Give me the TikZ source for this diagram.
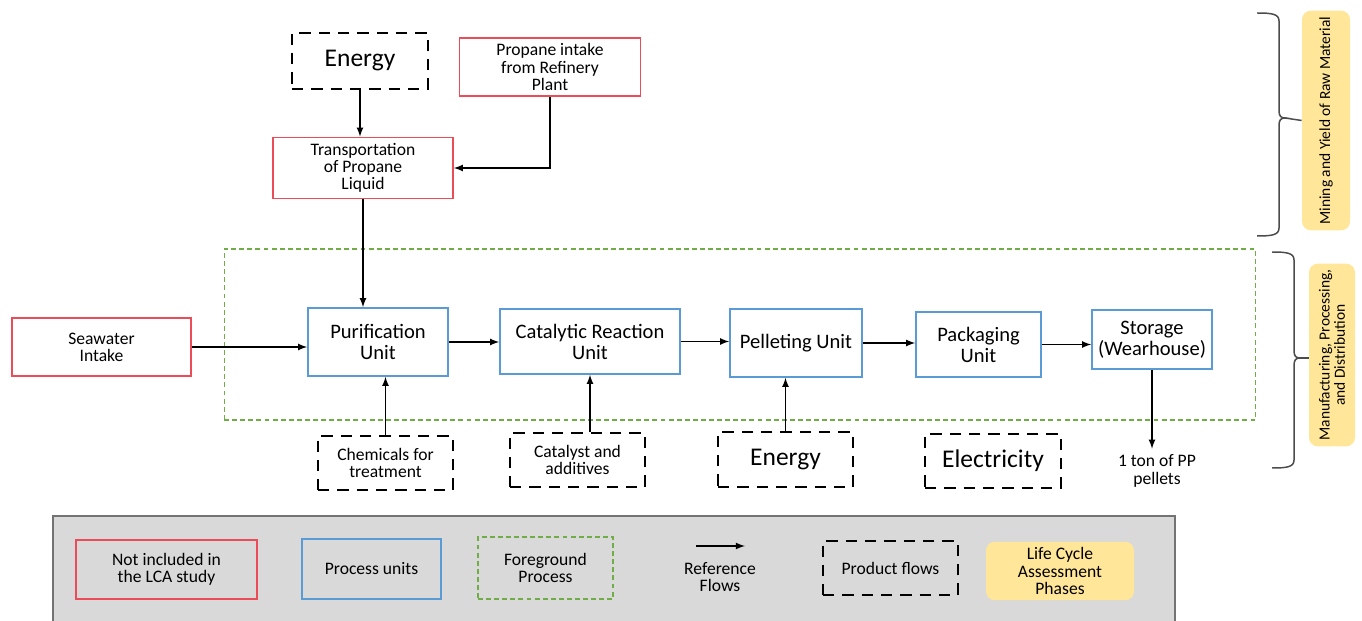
\documentclass[tikz,border=0pt]{standalone}
\usepackage{fontspec}
\setmainfont{Carlito}
\usepackage{tikz}
\usetikzlibrary{positioning}

\definecolor{lcared}{RGB}{236,76,88}
\definecolor{unitblue}{RGB}{91,155,213}
\definecolor{fggreen}{RGB}{112,173,71}
\definecolor{phaseyellow}{RGB}{255,230,153}
\definecolor{legendgray}{RGB}{217,217,217}

\newcommand{\bigtxt}{\fontsize{14.5}{16}\selectfont}
\newcommand{\unittxt}{\fontsize{11.7}{12}\selectfont}
\newcommand{\smalltxt}{\fontsize{10}{9.8}\selectfont}
\newcommand{\legtxt}{\fontsize{10}{9.8}\selectfont}
\newcommand{\phasetxt}{\fontsize{8.8}{8.6}\selectfont}

\begin{document}
\begin{tikzpicture}[>=latex, x=0.02cm, y=-0.02cm,
  excluded/.style={draw=lcared, line width=0.9pt, align=center, font=\smalltxt},
  unit/.style={draw=unitblue, line width=0.9pt, align=center, font=\unittxt},
  product/.style={draw, line width=1.6pt, dash pattern=on 6.5pt off 4.5pt, align=center},
  foreground/.style={draw=fggreen, line width=0.6pt, dash pattern=on 2.8pt off 1.8pt},
  phase/.style={fill=phaseyellow, rounded corners=5pt, align=center, font=\phasetxt},
  flow/.style={->, line width=0.8pt},
  phasebrace/.style={draw=black!70, line width=0.85pt}
  ]
  \useasboundingbox (0,0) rectangle (1362,621);

  %--- Raw material stage
  \node[product, font=\bigtxt, minimum width=2.72cm, minimum height=1.12cm] (energyTop) at (360,61) {Energy};
  \node[excluded, minimum width=3.62cm, minimum height=1.16cm] (propane) at (550,67) {Propane intake\\from Refinery\\Plant};
  \node[excluded, minimum width=3.6cm, minimum height=1.16cm] (transport) at (363,168) {Transportation\\of Propane\\Liquid};

  \draw[flow] (energyTop.south) -- (energyTop.south |- transport.north);
  \draw[flow] (propane.south) |- (transport.east);

  %--- Foreground process
  \node[foreground, minimum width=20.64cm, minimum height=3.42cm] (fg) at (740,334.5) {};

  \node[excluded, minimum width=3.58cm, minimum height=1.16cm] (seawater) at (101.5,347) {Seawater\\Intake};
  \node[unit, minimum width=2.8cm, minimum height=1.36cm] (purif) at (378,342) {Purification\\Unit};
  \node[unit, minimum width=3.6cm, minimum height=1.3cm] (catalytic) at (590,341.5) {Catalytic Reaction\\Unit};
  \node[unit, minimum width=2.64cm, minimum height=1.36cm] (pellet) at (796,343) {Pelleting Unit};
  \node[unit, minimum width=2.5cm, minimum height=1.3cm] (packaging) at (978.5,344.5) {Packaging\\Unit};
  \node[unit, minimum width=2.4cm, minimum height=1.18cm] (storage) at (1152,339.5) {Storage\\(Wearhouse)};

  \draw[flow] (transport.south) -- (transport.south |- purif.north);
  \draw[flow] (seawater.east) -- (seawater.east -| purif.west);
  \draw[flow] (purif.east) -- (purif.east -| catalytic.west);
  \draw[flow] (catalytic.east) -- (catalytic.east -| pellet.west);
  \draw[flow] (pellet.east) -- (pellet.east -| packaging.west);
  \draw[flow] (packaging.east) -- (packaging.east -| storage.west);

  %--- Product flows into the units
  \node[product, font=\smalltxt, minimum width=2.7cm, minimum height=1.08cm] (chem) at (385.5,463) {Chemicals for\\treatment};
  \node[product, font=\smalltxt, minimum width=2.7cm, minimum height=1.08cm] (catalyst) at (577.5,460) {Catalyst and\\additives};
  \node[product, font=\bigtxt, minimum width=2.7cm, minimum height=1.1cm] (energyBot) at (785.5,459.5) {Energy};
  \node[product, font=\bigtxt, minimum width=2.72cm, minimum height=1.08cm] (elec) at (993,461) {Electricity};
  \node[font=\smalltxt, align=center] (pp) at (1157,471) {1 ton of PP\\pellets};

  \draw[flow] (chem.north) -- (chem.north |- purif.south);
  \draw[flow] (catalytic.south |- catalyst.north) -- (catalytic.south);
  \draw[flow] (energyBot.north) -- (energyBot.north |- pellet.south);
  \draw[flow] (storage.south) -- (storage.south |- pp.north);

  %--- Life cycle phases
  \node[phase, rotate=90, minimum width=4.34cm, minimum height=0.96cm] (phase1) at (1326,120.5) {Mining and Yield of Raw Material};
  \node[phase, rotate=90, minimum width=3.48cm, minimum height=0.92cm] (phase2) at (1332,355) {Manufacturing, Processing,\\and Distribution};

  \draw[phasebrace] (1257,13) .. controls (1272,13) and (1279,14) .. (1279,21) -- (1279,111)
    .. controls (1279,116) and (1281,118) .. (1285,118)
    .. controls (1281,118) and (1279,120) .. (1279,125) -- (1279,228)
    .. controls (1279,235) and (1272,236) .. (1257,236);
  \draw[phasebrace] (1285,118) -- (phase1.north);
  \draw[phasebrace] (1272,252) .. controls (1287,252) and (1294,253) .. (1294,260) -- (1294,351)
    .. controls (1294,356) and (1296,358) .. (1300,358)
    .. controls (1296,358) and (1294,360) .. (1294,365) -- (1294,460)
    .. controls (1294,467) and (1287,468) .. (1272,468);
  \draw[phasebrace] (1300,358) -- (1300,358 -| phase2.north);

  %--- Legend
  \node[fill=legendgray, draw=black!55, line width=0.9pt, minimum width=22.44cm, minimum height=2.2cm] (legend) at (614,571) {};
  \node[excluded, font=\legtxt, minimum width=3.62cm, minimum height=1.18cm] (keyExcl) at (166.5,569.5) {Not included in\\the LCA study};
  \node[unit, font=\legtxt, minimum width=2.78cm, minimum height=1.2cm] (keyUnit) at (371.5,569) {Process units};
  \node[foreground, font=\legtxt, align=center, minimum width=2.7cm, minimum height=1.24cm] (keyFg) at (545.5,568) {Foreground\\Process};
  \coordinate (keyFlowA) at (696,546);
  \coordinate (keyFlowB) at (745,546);
  \draw[flow] (keyFlowA) -- (keyFlowB);
  \node[font=\legtxt, align=center] (keyFlow) at (720,577) {Reference\\Flows};
  \node[product, font=\legtxt, minimum width=2.7cm, minimum height=1.08cm] (keyProd) at (890.5,568) {Product flows};
  \node[phase, font=\legtxt, minimum width=2.96cm, minimum height=1.12cm] (keyPhase) at (1060,571) {Life Cycle\\Assessment\\Phases};

\end{tikzpicture}
\end{document}
